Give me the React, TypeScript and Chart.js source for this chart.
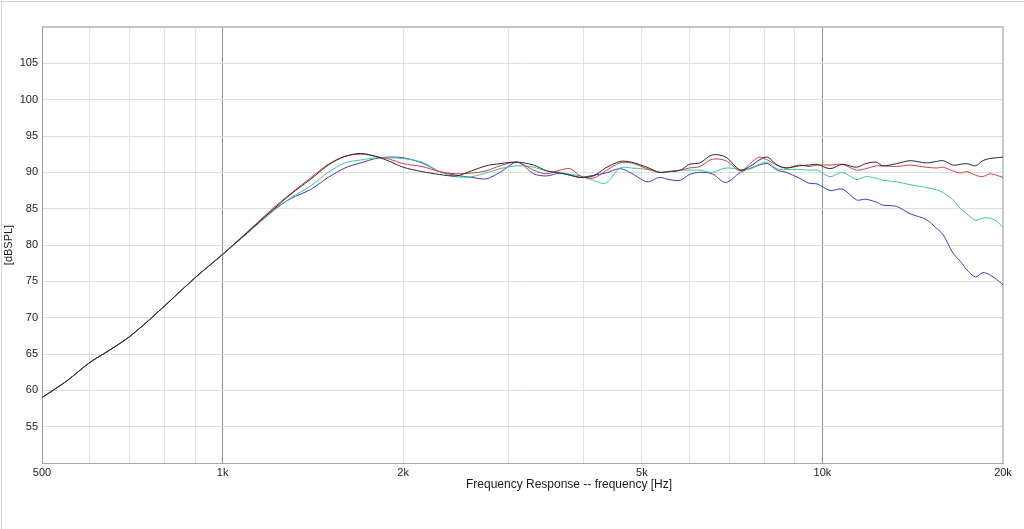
import React, { useEffect, useRef } from 'react';
import { Chart, registerables } from 'chart.js';

Chart.register(...registerables);

// Frequency grid (Hz) shared by all series
const FREQ = [
  500, 550, 600, 650, 700, 750, 800, 900, 1000, 1100,
  1200, 1300, 1400, 1500, 1600, 1700, 1800, 1900, 2000, 2150,
  2300, 2450, 2600, 2750, 2900, 3100, 3300, 3470, 3650, 3800,
  3950, 4150, 4350, 4600, 4800, 5100, 5350, 5550, 5800, 6000,
  6250, 6550, 6900, 7300, 7600, 7850, 8100, 8400, 8700, 9150,
  9500, 9800, 10300, 10800, 11400, 11800, 12300, 12600, 13300, 14000,
  14900, 15500, 15900, 16500, 17000, 17400, 18000, 18500, 19000, 19500, 20000,
];

const BLACK = [
  59.0, 61.3, 63.8, 65.6, 67.4, 69.5, 71.6, 75.5, 78.7, 81.7,
  84.5, 87.0, 89.0, 91.0, 92.2, 92.6, 92.2, 91.5, 90.7, 90.1,
  89.7, 89.5, 90.2, 90.9, 91.2, 91.4, 91.0, 90.2, 89.9, 89.6,
  89.3, 89.5, 90.6, 91.5, 91.4, 90.7, 90.0, 90.1, 90.3, 91.1,
  91.3, 92.4, 92.1, 90.3, 90.9, 91.7, 92.1, 91.0, 90.6, 90.9,
  91.0, 91.1, 90.5, 91.1, 90.7, 91.2, 91.4, 90.9, 91.2, 91.6,
  91.3, 91.5, 91.6, 91.0, 91.1, 91.2, 90.9, 91.6, 91.9, 92.0, 92.1,
];

const RED = [
  59.0, 61.3, 63.8, 65.6, 67.4, 69.5, 71.6, 75.5, 78.7, 81.8,
  84.7, 87.1, 89.2, 91.1, 92.2, 92.5, 92.2, 91.8, 91.2, 90.8,
  90.1, 89.8, 89.9, 90.2, 90.9, 91.4, 90.3, 89.8, 90.3, 90.5,
  89.5, 89.2, 90.2, 91.3, 91.3, 90.5, 90.0, 90.1, 90.3, 90.6,
  90.8, 91.8, 91.6, 90.2, 91.3, 92.1, 91.7, 91.0, 90.6, 91.0,
  90.8, 91.0, 91.0, 91.1, 90.3, 90.5, 90.9, 90.9, 90.8, 91.0,
  90.7, 90.6, 90.7, 90.2, 89.9, 90.1, 89.6, 89.4, 89.8, 89.6, 89.3,
];

const TEAL = [
  59.0, 61.3, 63.8, 65.6, 67.4, 69.5, 71.6, 75.5, 78.7, 81.6,
  84.3, 86.5, 88.1, 90.0, 91.3, 91.7, 92.0, 92.0, 91.9, 91.4,
  90.1, 89.4, 89.4, 89.9, 90.5, 90.9, 90.7, 90.2, 90.0, 89.7,
  89.5, 88.9, 88.5, 90.6, 90.6, 90.4, 90.0, 90.1, 90.3, 90.3,
  90.3, 90.0, 90.6, 90.4, 90.5, 91.1, 91.4, 90.5, 90.4, 90.4,
  90.3, 90.3, 89.4, 90.0, 89.0, 89.4, 89.2, 88.9, 88.7, 88.3,
  87.9, 87.6, 87.2, 86.2, 85.0, 84.3, 83.4, 83.7, 83.7, 83.3, 82.4,
];

const BLUE = [
  59.0, 61.3, 63.8, 65.6, 67.4, 69.5, 71.6, 75.5, 78.7, 81.8,
  84.5, 86.4, 87.6, 89.3, 90.6, 91.3, 91.9, 92.1, 92.0, 91.3,
  90.1, 89.6, 89.3, 89.1, 90.0, 91.4, 89.8, 89.5, 89.9, 89.6,
  89.3, 89.6, 89.9, 90.5, 89.9, 88.7, 89.3, 89.0, 88.9, 89.7,
  90.0, 89.8, 88.6, 90.0, 90.6, 91.0, 91.2, 90.3, 90.0, 89.2,
  88.5, 88.4, 87.5, 87.7, 86.2, 86.3, 85.9, 85.5, 85.3, 84.3,
  83.5, 82.3, 81.4, 78.9, 77.7, 76.6, 75.6, 76.2, 75.9, 75.3, 74.5,
];

const X_GRID = [500, 600, 700, 800, 900, 1000, 2000, 3000, 4000, 5000, 6000, 7000, 8000, 9000, 10000, 20000];
const X_LABELS: Record<number, string> = { 500: '500', 1000: '1k', 2000: '2k', 5000: '5k', 10000: '10k', 20000: '20k' };
const Y_MIN = 50;
const Y_MAX = 110;
const Y_STEP = 5;
const X_TITLE = 'Frequency Response -- frequency [Hz]';
const Y_TITLE = '[dBSPL]';

const FONT = "'Liberation Sans', Arial, sans-serif";

const toPoints = (vals: number[]) => FREQ.map((f, i) => ({ x: f, y: vals[i] }));

const decorPlugin = {
  id: 'decor',
  beforeDraw(chart: any) {
    const c = chart.ctx;
    c.save();
    c.fillStyle = '#ffffff';
    c.fillRect(0, 0, chart.width, chart.height);
    c.fillStyle = '#d6d6d6';
    c.fillRect(0, 1, chart.width, 1);
    c.fillRect(1, 0, 1, chart.height);
    c.restore();
  },
  beforeDatasetsDraw(chart: any) {
    const { ctx: c, chartArea: a } = chart;
    c.save();
    // top (thick light)
    c.fillStyle = '#c4c4c4';
    c.fillRect(a.left, a.top - 1, a.right - a.left + 1, 2);
    // right (thick light)
    c.fillStyle = '#c8c8c8';
    c.fillRect(a.right - 1, a.top - 1, 2, a.bottom - a.top + 1);
    // left
    c.fillStyle = '#9a9a9a';
    c.fillRect(a.left, a.top, 1, a.bottom - a.top + 1);
    // bottom
    c.fillStyle = '#a8a8a8';
    c.fillRect(a.left, a.bottom, a.right - a.left + 1, 1);
    c.restore();
  },
  afterDraw(chart: any) {
    const c = chart.ctx;
    c.save();
    c.fillStyle = '#1a1a1a';
    c.font = `12px ${FONT}`;
    c.textAlign = 'center';
    c.textBaseline = 'middle';
    c.fillText(X_TITLE, 569, 485);
    c.translate(9, 245);
    c.rotate(-Math.PI / 2);
    c.font = `11px ${FONT}`;
    c.fillText(Y_TITLE, 0, 0);
    c.restore();
  },
};

export default function App() {
  const ref = useRef<HTMLCanvasElement | null>(null);

  useEffect(() => {
    document.body.style.margin = '0';
    const canvas = ref.current;
    if (!canvas) return;
    const line = (vals: number[], color: string) => ({
      data: toPoints(vals),
      borderColor: color,
      backgroundColor: color,
      borderWidth: 1,
      pointRadius: 0,
      tension: 0.3,
      fill: false,
    });
    const chart = new Chart(canvas, {
      type: 'line',
      data: {
        datasets: [
          line(BLACK, '#2a2a2a'),
          line(RED, '#e03c3c'),
          line(TEAL, '#3cc89a'),
          line(BLUE, '#3c3cd0'),
        ] as any,
      },
      options: {
        responsive: false,
        animation: false,
        devicePixelRatio: 1,
        layout: { padding: { left: 0, top: 27, right: 21, bottom: 0 } },
        plugins: { legend: { display: false }, tooltip: { enabled: false } },
        scales: {
          x: {
            type: 'logarithmic',
            min: 500,
            max: 20000,
            afterBuildTicks: (s: any) => {
              s.ticks = X_GRID.map((v) => ({ value: v }));
            },
            afterFit: (s: any) => {
              s.height = 66;
            },
            border: { display: false },
            grid: {
              drawTicks: false,
              lineWidth: 1,
              color: (ctx: any) => {
                const v = ctx.tick && ctx.tick.value;
                if (v === 500 || v === 20000) return 'rgba(0,0,0,0)';
                if (v === 1000 || v === 10000) return '#8f8f8f';
                return '#e2e2e2';
              },
            },
            ticks: {
              autoSkip: false,
              maxRotation: 0,
              minRotation: 0,
              padding: 3,
              color: '#1a1a1a',
              font: { family: FONT, size: 11 },
              callback: (v: any) => X_LABELS[Number(v)] ?? '',
            },
          },
          y: {
            type: 'linear',
            min: Y_MIN,
            max: Y_MAX,
            afterFit: (s: any) => {
              s.width = 42;
            },
            border: { display: false },
            grid: {
              drawTicks: false,
              lineWidth: 1,
              color: (ctx: any) => {
                const v = ctx.tick && ctx.tick.value;
                if (v === Y_MIN || v === Y_MAX) return 'rgba(0,0,0,0)';
                return '#dedede';
              },
            },
            ticks: {
              stepSize: Y_STEP,
              padding: 4,
              color: '#1a1a1a',
              font: { family: FONT, size: 11 },
              callback: (v: any) => (v === Y_MIN || v === Y_MAX ? '' : String(v)),
            },
          },
        },
      } as any,
      plugins: [decorPlugin],
    });
    return () => chart.destroy();
  }, []);

  return (
    <div style={{ position: 'absolute', left: 0, top: 0, width: 1024, height: 529 }}>
      <canvas ref={ref} width={1024} height={529} style={{ display: 'block' }} />
    </div>
  );
}
